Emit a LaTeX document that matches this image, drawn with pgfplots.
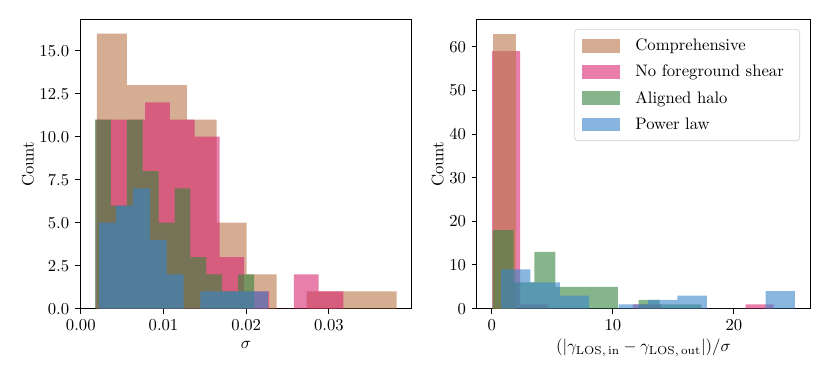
\documentclass[border=0pt]{standalone}
\usepackage{pgfplots}
\pgfplotsset{compat=1.18}

\definecolor{ctan}{HTML}{B97649}
\definecolor{cpink}{HTML}{D92871}
\definecolor{cgreen}{HTML}{37843E}
\definecolor{cblue}{HTML}{3985CA}

\pgfplotsset{
  histo/.style={ybar interval, draw=none, fill=#1, fill opacity=0.6},
  panel/.style={scale only axis, anchor=south west, height=173.3pt,
    tick align=outside, tick pos=left, major tick length=3pt,
    axis line style={line width=0.6pt}, ymin=0, ylabel={Count},
    ylabel shift=-3.5pt,
    every tick/.style={black, line width=0.6pt}},
}

\begin{document}
\begin{tikzpicture}
\path[use as bounding box] (0,0) rectangle (498pt,226.8pt);

% left: sigma
\begin{axis}[panel, at={(48pt,41.6pt)}, width=199pt,
  xmin=-0.0000949, xmax=0.0400, ymax=16.8,
  xtick={0,0.01,0.02,0.03}, ytick={0,2.5,...,15},
  scaled x ticks=false,
  xticklabel style={/pgf/number format/.cd, fixed, fixed zerofill, precision=2},
  yticklabel style={/pgf/number format/.cd, fixed, fixed zerofill, precision=1},
  xlabel={$\sigma$}]
\addplot[histo=ctan] coordinates {
(0.00193,16) (0.00556,13) (0.00918,13) (0.01281,11) (0.01643,5)
(0.02006,2) (0.02368,0) (0.02731,1) (0.03093,1) (0.03456,1) (0.03818,1)};
\addplot[histo=cpink] coordinates {
(0.00179,11) (0.00479,11) (0.00778,12) (0.01078,11) (0.01377,10)
(0.01677,3) (0.01976,1) (0.02276,0) (0.02575,2) (0.02875,1) (0.03174,1)};
\addplot[histo=cgreen] coordinates {
(0.00173,11) (0.00365,6) (0.00557,11) (0.00749,8) (0.00941,5)
(0.01133,7) (0.01325,3) (0.01518,2) (0.01710,1) (0.01902,2) (0.02094,2)};
\addplot[histo=cblue] coordinates {
(0.00221,5) (0.00425,6) (0.00629,7) (0.00834,4) (0.01038,2)
(0.01242,0) (0.01446,1) (0.01651,1) (0.01855,1) (0.02059,1) (0.02263,1)};
\end{axis}

% right: gamma difference
\begin{axis}[panel, at={(286.1pt,41.6pt)}, width=199.9pt,
  xmin=-1.23, xmax=26.28, ymax=66.15,
  xtick={0,10,20}, ytick={0,10,...,60},
  xlabel={$(|\gamma_{\rm LOS,\,in}-\gamma_{\rm LOS,\,out}|)/\sigma$},
  xlabel shift=-1.5pt,
  legend cell align=left,
  legend image code/.code={\fill[#1, sharp corners] (0pt,-4.1pt) rectangle (23pt,4.1pt);},
  legend style={at={(0.97,0.968)}, anchor=north east, draw=black!18,
    rounded corners=2pt, row sep=3.2pt, inner xsep=4.5pt, inner ysep=3.5pt,
    nodes={inner xsep=5pt},
    /tikz/every odd column/.append style={column sep=4pt}}]
\addlegendimage{fill=ctan, fill opacity=0.6, draw=none}
\addlegendentry{Comprehensive}
\addlegendimage{fill=cpink, fill opacity=0.6, draw=none}
\addlegendentry{No foreground shear}
\addlegendimage{fill=cgreen, fill opacity=0.6, draw=none}
\addlegendentry{Aligned halo}
\addlegendimage{fill=cblue, fill opacity=0.6, draw=none}
\addlegendentry{Power law}
\addplot[histo=cpink, forget plot] coordinates {
(0.025,59) (2.351,1) (4.676,0) (7.002,0) (9.327,0)
(11.653,1) (13.978,0) (16.304,0) (18.629,0) (20.955,1) (23.280,1)};
\addplot[histo=ctan, forget plot] coordinates {
(0.083,63) (2.010,63)};
\addplot[histo=cgreen, forget plot] coordinates {
(0.083,18) (1.805,6) (3.527,13) (5.249,5) (6.971,5)
(8.693,5) (10.415,0) (12.137,2) (13.859,1) (15.581,1) (17.303,1)};
\addplot[histo=cblue, forget plot] coordinates {
(0.770,9) (3.197,6) (5.623,3) (8.050,0) (10.476,1)
(12.903,2) (15.329,3) (17.756,0) (20.182,0) (22.609,4) (25.035,4)};
\end{axis}
\end{tikzpicture}
\end{document}
